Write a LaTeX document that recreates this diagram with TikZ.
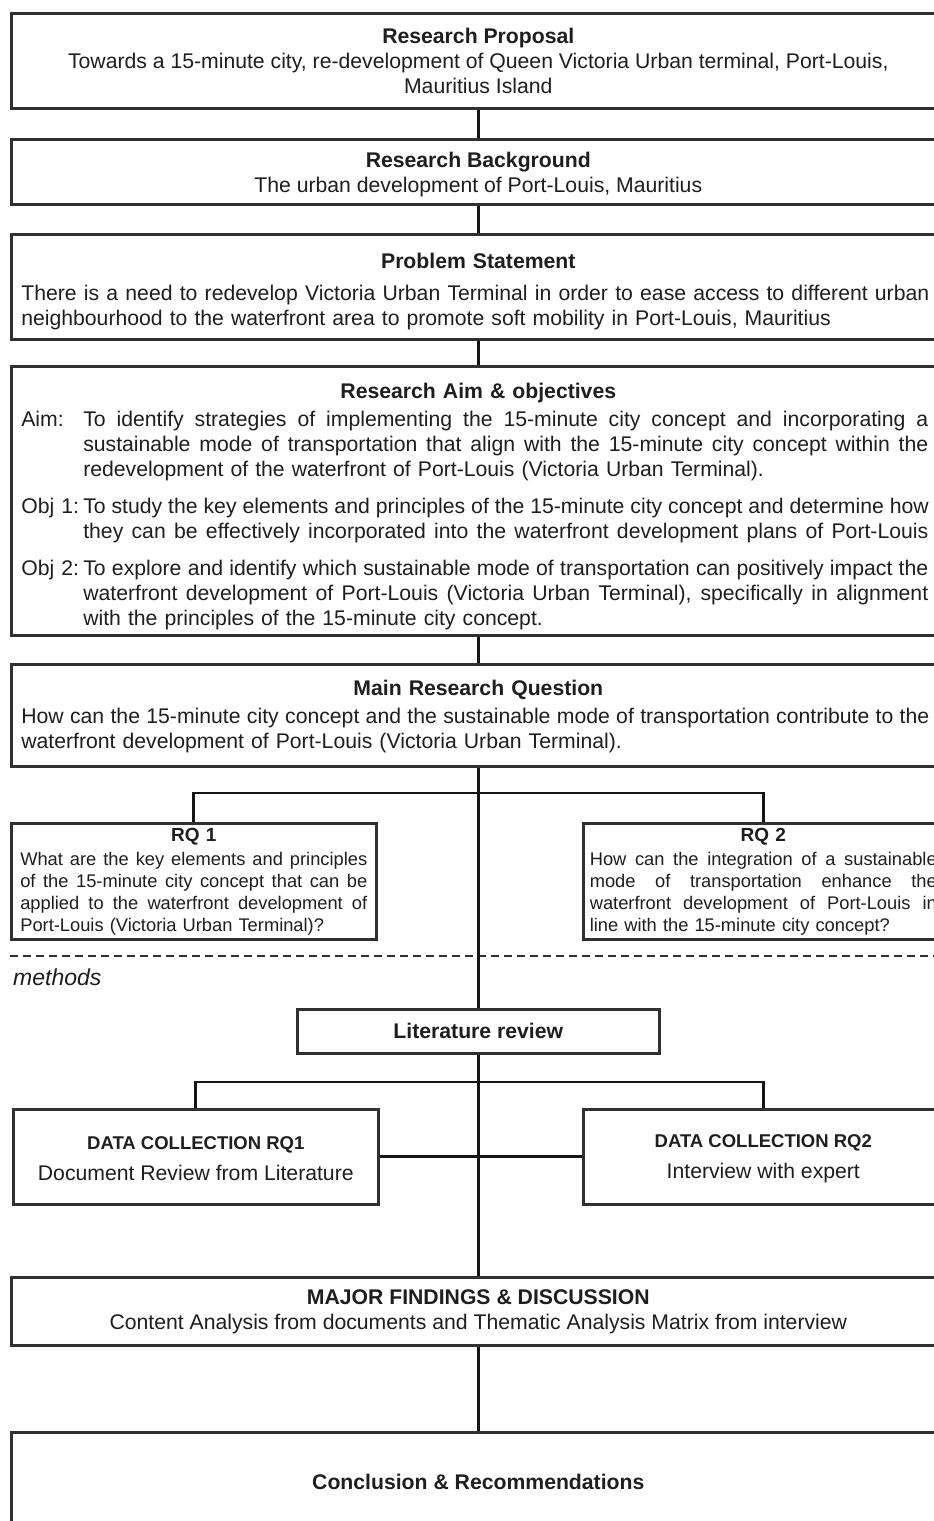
\documentclass[tikz,border=0pt]{standalone}
\usepackage{fontspec}
\setmainfont{Liberation Sans}
\definecolor{linec}{HTML}{303030}
\definecolor{connc}{HTML}{151515}
\definecolor{textc}{HTML}{1E1E1E}
\newcommand\jline[2]{\leavevmode\hbox to #1{\spaceskip=0.28em plus 1fil\relax #2}}
\newcommand\topadd[1]{\rule{0pt}{#1}}
\newcommand\lbl[1]{\makebox[62pt][l]{#1}}
\begin{document}
\begin{tikzpicture}[x=1pt,y=-1pt,
  box/.style={draw=linec, line width=2.6pt, rectangle, inner sep=0pt, anchor=north west, text=textc},
  link/.style={draw=connc, line width=2.8pt},
  mainf/.style={font=\fontsize{21.2}{25}\selectfont},
  rqf/.style={font=\fontsize{18.3}{22}\selectfont}]
\useasboundingbox (0,0) rectangle (934,1521);
\clip (0,0) rectangle (934,1521);
\fill[white] (0,0) rectangle (934,1521);

\node[box, mainf, minimum width=934pt, minimum height=95pt, align=center] (prop) at (10,12)
  {\textbf{Research Proposal}\\Towards a 15-minute city, re-development of Queen Victoria Urban terminal, Port-Louis,\\Mauritius Island};

\node[box, mainf, minimum width=934pt, minimum height=65pt, align=center] (bg) at (10,138)
  {\topadd{21.5pt}\textbf{Research Background}\\The urban development of Port-Louis, Mauritius};

\node[box, mainf, minimum width=934pt, minimum height=105pt, text width=914pt, align=left] (ps) at (10,233)
  {\makebox[914pt]{\topadd{25.5pt}\textbf{Problem Statement}}\\[7pt]
   \jline{908pt}{There is a need to redevelop Victoria Urban Terminal in order to ease access to different urban}\\
   neighbourhood to the waterfront area to promote soft mobility in Port-Louis, Mauritius};

\node[box, mainf, minimum width=934pt, minimum height=269pt, text width=914pt, align=left] (aim) at (10,365)
  {\makebox[914pt]{\topadd{27.5pt}\textbf{Research Aim \& objectives}}\\[3pt]
   \lbl{Aim:}\jline{845pt}{To identify strategies of implementing the 15-minute city concept and incorporating a}\\
   \hspace*{62pt}\jline{845pt}{sustainable mode of transportation that align with the 15-minute city concept within the}\\
   \hspace*{62pt}redevelopment of the waterfront of Port-Louis (Victoria Urban Terminal).\\[12pt]
   \lbl{Obj 1:}\jline{845pt}{To study the key elements and principles of the 15-minute city concept and determine how}\\
   \hspace*{62pt}\jline{845pt}{they can be effectively incorporated into the waterfront development plans of Port-Louis}\\[12pt]
   \lbl{Obj 2:}\jline{845pt}{To explore and identify which sustainable mode of transportation can positively impact the}\\
   \hspace*{62pt}\jline{845pt}{waterfront development of Port-Louis (Victoria Urban Terminal), specifically in alignment}\\
   \hspace*{62pt}with the principles of the 15-minute city concept.};

\node[box, mainf, minimum width=934pt, minimum height=102pt, text width=914pt, align=left] (mrq) at (10,663)
  {\makebox[914pt]{\topadd{17pt}\textbf{Main Research Question}}\\[3pt]
   \jline{908pt}{How can the 15-minute city concept and the sustainable mode of transportation contribute to the}\\
   waterfront development of Port-Louis (Victoria Urban Terminal).};

\node[box, rqf, minimum width=365pt, minimum height=116pt, text width=347pt, align=left] (rq1) at (10,822)
  {\makebox[347pt]{\fontsize{19}{22}\selectfont\textbf{RQ 1}}\\[2pt]
   \jline{347pt}{What are the key elements and principles}\\
   \jline{347pt}{of the 15-minute city concept that can be}\\
   \jline{347pt}{applied to the waterfront development of}\\
   Port-Louis (Victoria Urban Terminal)?};

\node[box, rqf, minimum width=360pt, minimum height=116pt, text width=347pt, align=left] (rq2) at (582,822)
  {\makebox[347pt]{\fontsize{19}{22}\selectfont\textbf{RQ 2}}\\[2pt]
   \jline{347pt}{How can the integration of a sustainable}\\
   \jline{347pt}{mode of transportation enhance the}\\
   \jline{347pt}{waterfront development of Port-Louis in}\\
   line with the 15-minute city concept?};

\coordinate (dl) at (10,956);
\coordinate (dr) at (934,956);
\draw[linec, line width=1.8pt, dash pattern=on 8pt off 5pt] (dl) -- (dr);
\node[anchor=west, inner sep=0pt, text=textc, font=\fontsize{23}{26}\selectfont\itshape] (meth) at (13,977) {methods};

\node[box, font=\fontsize{21.2}{25}\selectfont\bfseries, minimum width=362pt, minimum height=44pt] (lit) at (296,1008) {Literature review};

\node[box, minimum width=365pt, minimum height=95pt, align=center] (dc1) at (12,1108)
  {\topadd{17pt}{\fontsize{18.5}{22}\selectfont\bfseries DATA COLLECTION RQ1}\\[11pt]{\fontsize{21.2}{25}\selectfont Document Review from Literature}};
\node[box, minimum width=360pt, minimum height=95pt, align=center] (dc2) at (582,1108)
  {\topadd{17pt}{\fontsize{18.5}{22}\selectfont\bfseries DATA COLLECTION RQ2}\\[11pt]{\fontsize{21.2}{25}\selectfont Interview with expert}};

\node[box, mainf, minimum width=934pt, minimum height=68pt, align=center] (mf) at (10,1276)
  {\textbf{MAJOR FINDINGS \& DISCUSSION}\\Content Analysis from documents and Thematic Analysis Matrix from interview};

\node[box, font=\fontsize{21.2}{25}\selectfont\bfseries, minimum width=934pt, minimum height=100pt] (conc) at (10,1431)
  {Conclusion \& Recommendations};

\coordinate (j1) at (477,793);
\coordinate (j2) at (477,1082);

\draw[link] (prop.south) -- (bg.north);
\draw[link] (bg.south) -- (ps.north);
\draw[link] (ps.south) -- (aim.north);
\draw[link] (aim.south) -- (mrq.north);
\draw[link] (mrq.south) -- (lit.north);
\draw[link] (rq1.north) |- (j1) -| (rq2.north);
\draw[link] (lit.south) -- (mf.north);
\draw[link] (dc1.north) |- (j2) -| (dc2.north);
\draw[link] (dc1.east) -- (dc2.west);
\draw[link] (mf.south) -- (conc.north);
\end{tikzpicture}
\end{document}
